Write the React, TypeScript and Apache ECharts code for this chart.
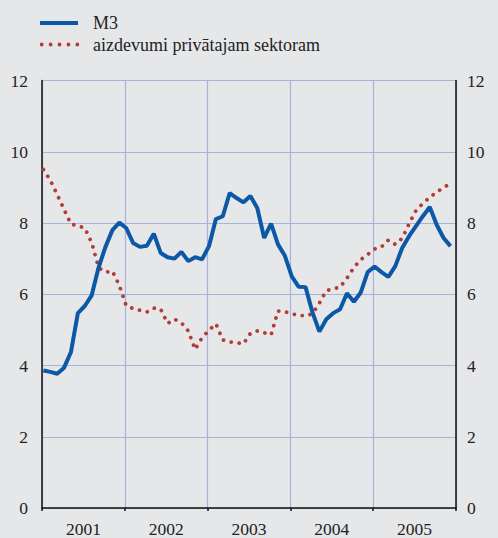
import React, { useEffect, useRef } from "react";
import * as echarts from "echarts";

const years = ["2001", "2002", "2003", "2004", "2005"];

// monthly values, Jan 2001 .. Dec 2005
const m3 = [
  3.86, 3.82, 3.77, 3.94, 4.38, 5.47, 5.67, 5.97, 6.75, 7.33, 7.8, 8.01,
  7.86, 7.44, 7.33, 7.36, 7.7, 7.16, 7.04, 7.0, 7.19, 6.93, 7.04, 6.98,
  7.35, 8.11, 8.19, 8.84, 8.7, 8.58, 8.76, 8.42, 7.58, 7.98, 7.4, 7.08,
  6.5, 6.21, 6.2, 5.49, 4.95, 5.3, 5.47, 5.58, 6.03, 5.79, 6.05, 6.62,
  6.78, 6.62, 6.49, 6.79, 7.3, 7.63, 7.91, 8.19, 8.45, 7.95, 7.58, 7.35,
];

const loans = [
  9.5, 9.2, 8.8, 8.38, 7.97, 7.92, 7.86, 7.45, 6.75, 6.62, 6.65, 6.25,
  5.68, 5.6, 5.55, 5.5, 5.61, 5.58, 5.18, 5.3, 5.2, 4.97, 4.45, 4.78,
  4.99, 5.17, 4.72, 4.66, 4.64, 4.61, 4.9, 4.97, 4.92, 4.86, 5.53, 5.51,
  5.45, 5.41, 5.39, 5.45, 5.75, 6.1, 6.15, 6.2, 6.45, 6.75, 6.97, 7.12,
  7.27, 7.33, 7.52, 7.4, 7.57, 7.98, 8.35, 8.55, 8.72, 8.87, 8.99, 9.12,
];

const seriesNames = ["M3", "aizdevumi privātajam sektoram"];

const FONT = "Liberation Serif";
const TEXT = "#222";
const BLUE = "#0b58a6";
const RED = "#b23c36";
const GRID = "#a6b3dc";

export default function App() {
  const ref = useRef<HTMLDivElement>(null);

  useEffect(() => {
    document.body.style.margin = "0";
    const chart = echarts.init(ref.current!, undefined, { renderer: "svg" });
    const offset = 0.2;
    const toPts = (arr: number[]) => arr.map((v, i) => [i + offset, v]);

    chart.setOption({
      animation: false,
      backgroundColor: "#e6e7e9",
      grid: { left: 42, right: 42, top: 80.5, bottom: 28.5, containLabel: false },
      xAxis: [
        {
          type: "value",
          min: 0,
          max: 60,
          interval: 12,
          axisLine: { show: true, onZero: false, lineStyle: { color: "#111", width: 1.5 } },
          axisTick: { show: true, inside: false, length: 3, lineStyle: { color: "#111", width: 1.5 } },
          axisLabel: { show: false },
          splitLine: { show: true, lineStyle: { color: GRID, width: 1.2 } },
        },
        {
          type: "category",
          data: years,
          position: "bottom",
          boundaryGap: true,
          axisLine: { show: false },
          axisTick: { show: false },
          splitLine: { show: false },
          axisLabel: { show: true, color: TEXT, fontSize: 17.5, fontFamily: FONT, margin: 12 },
        },
      ],
      yAxis: [
        {
          type: "value",
          min: 0,
          max: 12,
          interval: 2,
          position: "left",
          axisLine: { show: true, lineStyle: { color: "#111", width: 1.5 } },
          axisTick: { show: false },
          axisLabel: { color: TEXT, fontSize: 17.5, fontFamily: FONT, margin: 14 },
          splitLine: { show: true, lineStyle: { color: GRID, width: 1.2 } },
        },
        {
          type: "value",
          min: 0,
          max: 12,
          interval: 2,
          position: "right",
          axisLine: { show: true, lineStyle: { color: "#111", width: 1.5 } },
          axisTick: { show: false },
          axisLabel: { color: TEXT, fontSize: 17.5, fontFamily: FONT, margin: 11 },
          splitLine: { show: false },
        },
      ],
      series: [
        {
          name: seriesNames[1],
          type: "line",
          xAxisIndex: 0,
          yAxisIndex: 0,
          data: toPts(loans),
          symbol: "none",
          lineStyle: { color: RED, width: 3.8, type: [0.01, 8], cap: "round" },
          z: 3,
        },
        {
          name: seriesNames[0],
          type: "line",
          xAxisIndex: 0,
          yAxisIndex: 0,
          data: toPts(m3),
          symbol: "none",
          lineStyle: { color: BLUE, width: 4 },
          z: 4,
        },
      ],
      graphic: [
        {
          type: "line",
          shape: { x1: 40, y1: 23, x2: 78, y2: 23 },
          style: { stroke: BLUE, lineWidth: 4 },
        },
        {
          type: "text",
          x: 93,
          y: 23,
          style: { text: seriesNames[0], fill: TEXT, fontSize: 18, fontFamily: FONT, verticalAlign: "middle" },
        },
        {
          type: "line",
          shape: { x1: 41.7, y1: 44.5, x2: 78, y2: 44.5 },
          style: { stroke: RED, lineWidth: 3.8, lineDash: [0.01, 8.9], lineCap: "round" },
        },
        {
          type: "text",
          x: 93,
          y: 44.5,
          style: { text: seriesNames[1], fill: TEXT, fontSize: 18, fontFamily: FONT, verticalAlign: "middle" },
        },
      ],
    });
    return () => chart.dispose();
  }, []);

  return <div ref={ref} style={{ width: 498, height: 538 }} />;
}
